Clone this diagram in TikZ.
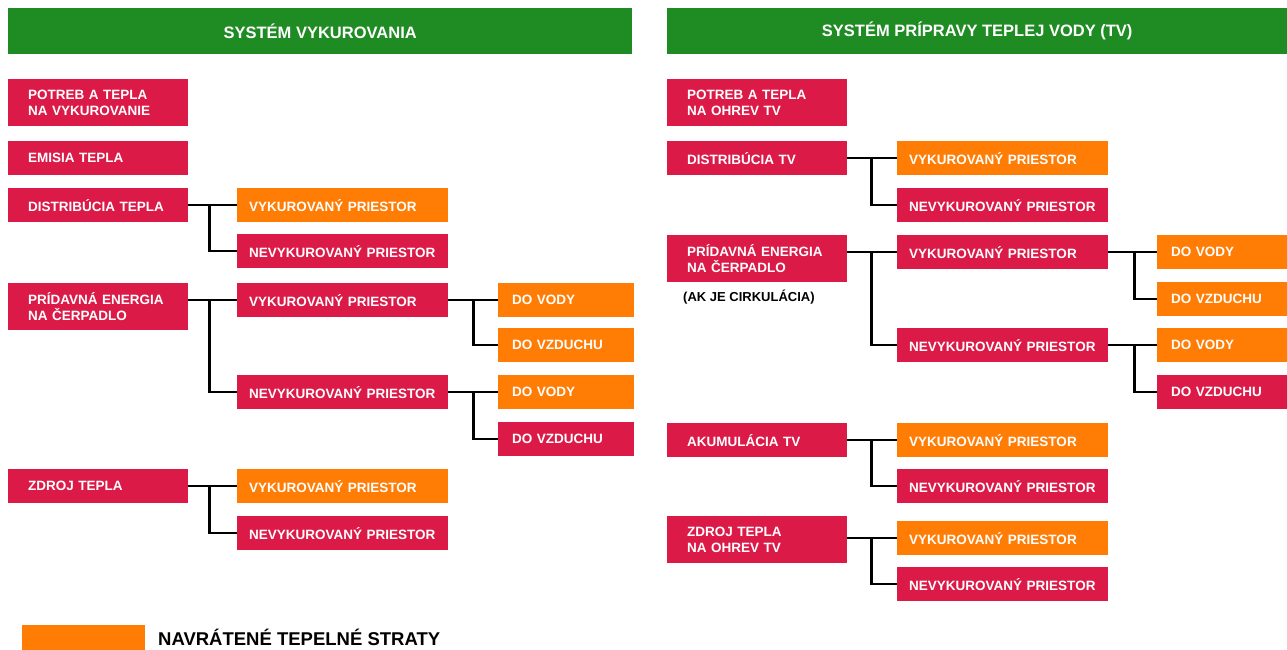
\documentclass[tikz,border=0pt]{standalone}
\usepackage{fontspec}
\setmainfont{Liberation Sans}
\usetikzlibrary{calc}
\definecolor{crim}{RGB}{220,26,72}
\definecolor{orng}{RGB}{255,125,5}
\definecolor{hdrg}{RGB}{30,140,35}
\newcommand\myconn[4]{%
  \draw[ln] (#1.east |- #2.west) -- (#2.west);
  \draw[ln] ($(#1.east |- #2.west)+(#4,0)$) |- (#3.west);}
\begin{document}
\begin{tikzpicture}[x=1pt,y=-1pt,
  bx/.style={anchor=north west, font=\fontsize{13.5}{16}\selectfont\bfseries, text=white, align=left, inner ysep=0pt},
  rd/.style={bx, fill=crim}, og/.style={bx, fill=orng},
  hd/.style={anchor=north west, fill=hdrg, text=white, font=\fontsize{16.5}{18}\selectfont\bfseries, minimum height=46pt, inner sep=0pt},
  wA/.style={text width=140pt, inner xsep=20pt},
  wB/.style={text width=187pt, inner xsep=12pt},
  wC/.style={text width=108pt, inner xsep=14pt},
  wD/.style={text width=110pt, inner xsep=14pt},
  hs/.style={minimum height=34pt},
  hl/.style={minimum height=47pt},
  ln/.style={line width=2.3pt, black}]
\fill[white] (0,0) rectangle (1287,650);
\useasboundingbox (0,0) rectangle (1287,650);

% headers
\node[hd, minimum width=624pt] (h1) at (8,8) {SYSTÉM VYKUROVANIA};
\node[hd, minimum width=620pt] (h2) at (667,8) {SYSTÉM PRÍPRAVY TEPLEJ VODY (TV)};

% ===== left =====
\node[rd, wA, hl] (p1) at (8,79) {POTREB A TEPLA\\NA VYKUROVANIE};
\node[rd, wA, hs] (e1) at (8,141) {EMISIA TEPLA};
\node[rd, wA, hs] (d1) at (8,188) {DISTRIBÚCIA TEPLA};
\node[rd, wA, hl] (a1) at (8,283) {PRÍDAVNÁ ENERGIA\\NA ČERPADLO};
\node[rd, wA, hs] (z1) at (8,469) {ZDROJ TEPLA};

\node[og, wB, hs] (d1v) at (237,188) {VYKUROVANÝ PRIESTOR};
\node[rd, wB, hs] (d1n) at (237,234) {NEVYKUROVANÝ PRIESTOR};
\node[rd, wB, hs] (a1v) at (237,283) {VYKUROVANÝ PRIESTOR};
\node[rd, wB, hs] (a1n) at (237,375) {NEVYKUROVANÝ PRIESTOR};
\node[og, wB, hs] (z1v) at (237,469) {VYKUROVANÝ PRIESTOR};
\node[rd, wB, hs] (z1n) at (237,516) {NEVYKUROVANÝ PRIESTOR};

\node[og, wC, hs] (a1vw) at (498,283) {DO VODY};
\node[og, wC, hs] (a1va) at (498,328) {DO VZDUCHU};
\node[og, wC, hs] (a1nw) at (498,375) {DO VODY};
\node[rd, wC, hs] (a1na) at (498,422) {DO VZDUCHU};

\myconn{d1}{d1v}{d1n}{21}
\myconn{a1}{a1v}{a1n}{21}
\myconn{z1}{z1v}{z1n}{21}
\myconn{a1v}{a1vw}{a1va}{25}
\myconn{a1n}{a1nw}{a1na}{25}

% ===== right =====
\node[rd, wA, hl] (p2) at (667,79) {POTREB A TEPLA\\NA OHREV TV};
\node[rd, wA, hs] (d2) at (667,141) {DISTRIBÚCIA TV};
\node[rd, wA, hl] (a2) at (667,235) {PRÍDAVNÁ ENERGIA\\NA ČERPADLO};
\node[anchor=west, inner sep=0pt, font=\fontsize{13}{15}\selectfont\bfseries] (note) at (683,297) {(AK JE CIRKULÁCIA)};
\node[rd, wA, hs] (k2) at (667,423) {AKUMULÁCIA TV};
\node[rd, wA, hl] (z2) at (667,516) {ZDROJ TEPLA\\NA OHREV TV};

\node[og, wB, hs] (d2v) at (897,141) {VYKUROVANÝ PRIESTOR};
\node[rd, wB, hs] (d2n) at (897,188) {NEVYKUROVANÝ PRIESTOR};
\node[rd, wB, hs] (a2v) at (897,235) {VYKUROVANÝ PRIESTOR};
\node[rd, wB, hs] (a2n) at (897,328) {NEVYKUROVANÝ PRIESTOR};
\node[og, wB, hs] (k2v) at (897,423) {VYKUROVANÝ PRIESTOR};
\node[rd, wB, hs] (k2n) at (897,469) {NEVYKUROVANÝ PRIESTOR};
\node[og, wB, hs] (z2v) at (897,521) {VYKUROVANÝ PRIESTOR};
\node[rd, wB, hs] (z2n) at (897,567) {NEVYKUROVANÝ PRIESTOR};

\node[og, wD, hs] (a2vw) at (1157,235) {DO VODY};
\node[og, wD, hs] (a2va) at (1157,282) {DO VZDUCHU};
\node[og, wD, hs] (a2nw) at (1157,328) {DO VODY};
\node[rd, wD, hs] (a2na) at (1157,375) {DO VZDUCHU};

\myconn{d2}{d2v}{d2n}{24}
\myconn{a2}{a2v}{a2n}{24}
\myconn{k2}{k2v}{k2n}{24}
\myconn{z2}{z2v}{z2n}{24}
\myconn{a2v}{a2vw}{a2va}{26}
\myconn{a2n}{a2nw}{a2na}{26}

% legend
\node[anchor=north west, fill=orng, minimum width=123pt, minimum height=30pt, inner sep=0pt] (lg) at (22,625) {};
\node[anchor=west, inner sep=0pt, font=\fontsize{18.5}{20}\selectfont\bfseries] (lgt) at (158,637) {NAVRÁTENÉ TEPELNÉ STRATY};
\end{tikzpicture}
\end{document}
